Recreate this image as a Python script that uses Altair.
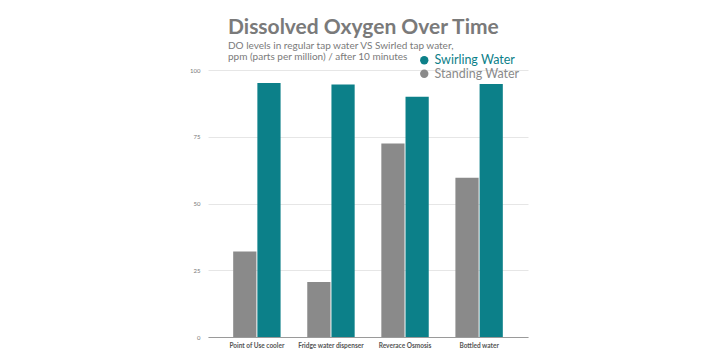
import altair as alt
import pandas as pd

categories = ["Point of Use cooler", "Fridge water dispenser", "Reverace Osmosis", "Bottled water"]
standing = [32, 20.6, 72.5, 59.6]
swirling = [95.1, 94.6, 90.0, 94.8]
series = ["Swirling Water", "Standing Water"]
colors = ["#0c8089", "#8a8a8a"]

rows = []
for c, s, w in zip(categories, standing, swirling):
    rows.append({"cat": c, "series": "Standing Water", "value": s})
    rows.append({"cat": c, "series": "Swirling Water", "value": w})
df = pd.DataFrame(rows)

FONT = "Lato"

chart = alt.Chart(df).mark_bar().encode(
    x=alt.X("cat:N", sort=categories,
            scale=alt.Scale(paddingInner=0.36, paddingOuter=0.34),
            axis=alt.Axis(title=None, labelAngle=0, labelFontSize=6.5, labelFontWeight="bold",
                          labelColor="#555555", labelPadding=5, ticks=False,
                          domainColor="#9a9a9a", labelFont=FONT)),
    xOffset=alt.XOffset("series:N", sort=["Standing Water", "Swirling Water"],
                        scale=alt.Scale(paddingInner=0.04)),
    y=alt.Y("value:Q", scale=alt.Scale(domain=[0, 100]),
            axis=alt.Axis(title=None, values=[0, 25, 50, 75, 100], labelFontSize=6,
                          labelColor="#777777", domain=False, ticks=False, labelPadding=8,
                          gridColor="#e6e6e6", labelFont=FONT)),
    color=alt.Color("series:N", sort=series,
                    scale=alt.Scale(domain=series, range=colors),
                    legend=alt.Legend(title=None, orient="none", legendX=210, legendY=-16,
                                      symbolType="circle", symbolSize=70, labelFontSize=12.5,
                                      labelFont=FONT, rowPadding=0.5, symbolStrokeWidth=0,
                                      labelColor={"expr": "datum.label == 'Swirling Water' ? '#0c8089' : '#8a8a8a'"})),
).properties(
    width=320, height=267,
    title=alt.TitleParams(
        text="Dissolved Oxygen Over Time",
        subtitle=["DO levels in regular tap water VS Swirled tap water,",
                  "ppm (parts per million) / after 10 minutes"],
        anchor="start", frame="group", dx=20, offset=-8,
        font=FONT, fontSize=21, fontWeight="bold", color="#7a7a7a",
        subtitleFont=FONT, subtitleFontSize=10, subtitleColor="#7a7a7a",
        subtitlePadding=3, subtitleLineHeight=11,
    ),
    autosize=alt.AutoSizeParams(type="none"),
    padding={"left": 208, "top": 70, "right": 192, "bottom": 16},
    background="white",
).configure_view(stroke=None)

chart.save("out.html", embed_options={"renderer": "svg", "actions": False})
